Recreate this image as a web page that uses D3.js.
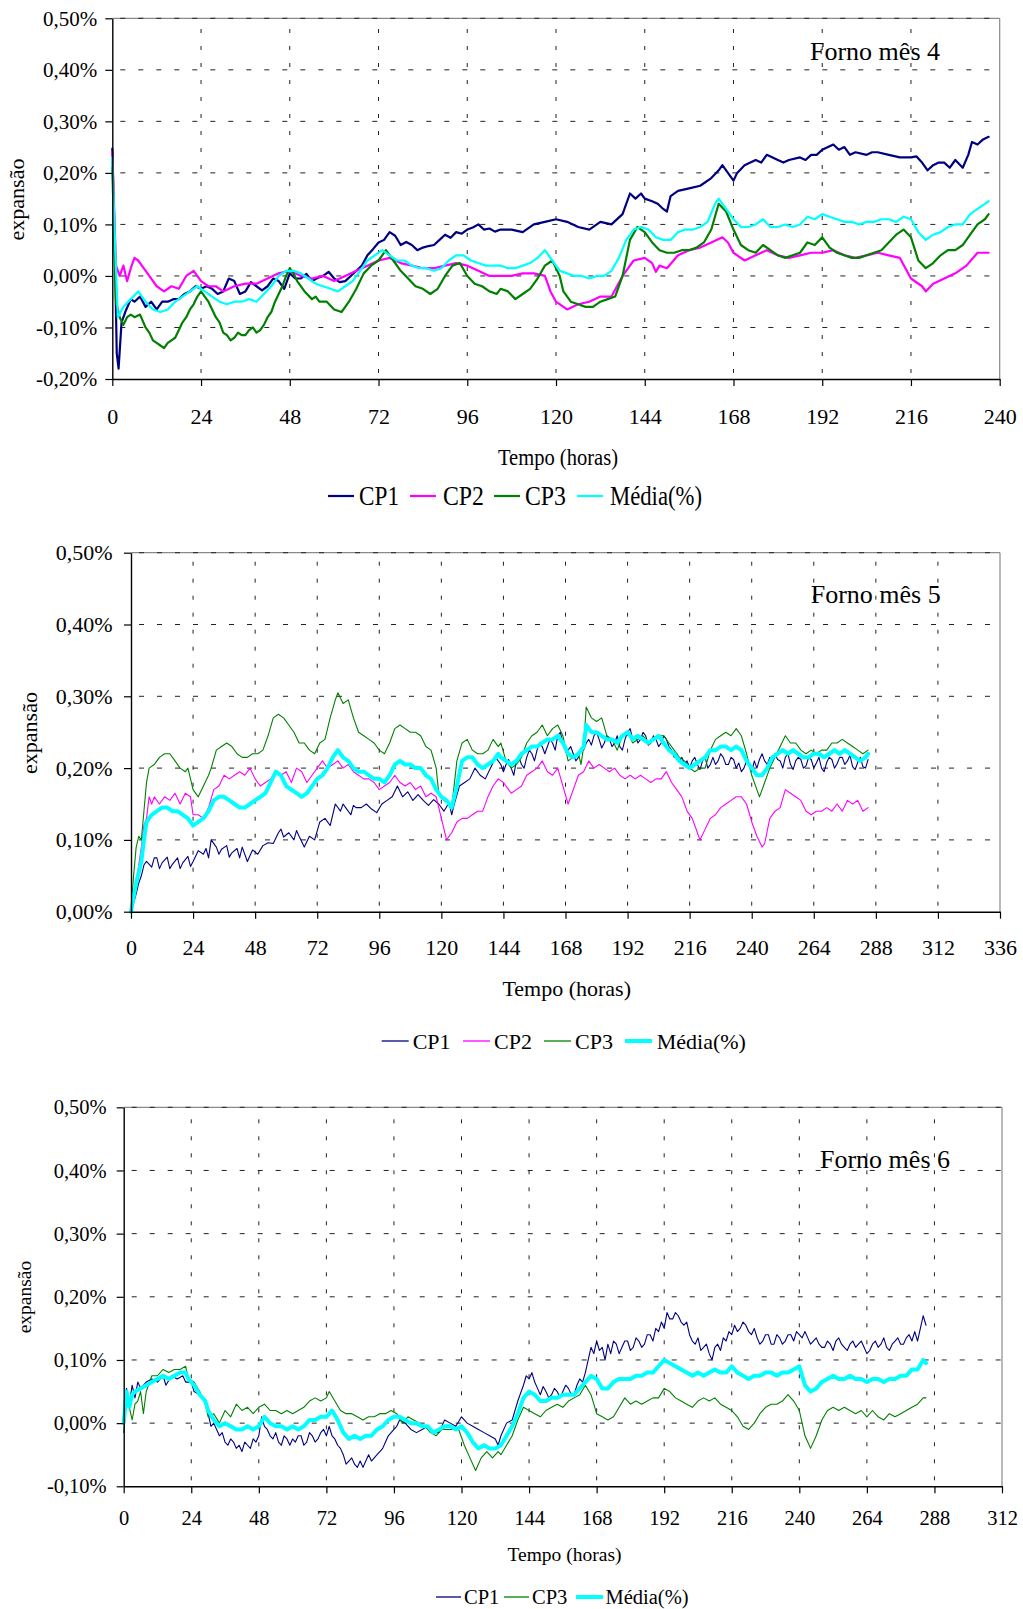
<!DOCTYPE html>
<html><head><meta charset="utf-8">
<script src="https://cdn.jsdelivr.net/npm/d3@7"></script>
<style>
body{margin:0;background:#fff}
text{font-family:'Liberation Serif','Times New Roman',serif;fill:#000}
</style>
</head><body>
<script>
// ===== DATA =====
// Forno mês 4  (time in hours, expansion in %)
const p1_CP1 = [[0,0.247],[0.7,0.05],[1.2,-0.15],[1.7,-0.18],[2.5,-0.09],[3.5,-0.07],[5,-0.045],[6,-0.05],[7.5,-0.04],[9,-0.06],[10.5,-0.05],[12,-0.065],[13.5,-0.05],[15,-0.05],[16.5,-0.045],[18,-0.045],[19.5,-0.035],[21,-0.03],[22.5,-0.02],[24,-0.025],[25.5,-0.02],[27,-0.025],[28.5,-0.035],[30,-0.03],[31.5,-0.005],[33,-0.01],[34.5,-0.035],[36,-0.03],[37.5,-0.012],[39,-0.02],[40.5,-0.028],[42,-0.02],[43.5,-0.005],[45,-0.01],[46.5,-0.025],[48,0.005],[49.5,-0.005],[51,-0.005],[52.5,0.004],[54,-0.01],[55.5,-0.004],[57,0.0],[58.5,0.008],[60,-0.005],[61.5,-0.012],[63,-0.01],[64.5,0.0],[66,0.01],[67.5,0.02],[69,0.04],[70.5,0.052],[72,0.065],[73.5,0.07],[75,0.085],[76.5,0.078],[78,0.06],[79.5,0.066],[81,0.06],[82.5,0.05],[84,0.055],[85.5,0.058],[87,0.06],[88.5,0.07],[90,0.08],[91.5,0.074],[93,0.085],[94.5,0.082],[96,0.09],[97.5,0.094],[99,0.10],[100.5,0.09],[102,0.092],[103.5,0.086],[105,0.09],[108,0.09],[111,0.085],[114,0.10],[117,0.105],[120,0.11],[123,0.105],[126,0.095],[129,0.09],[132,0.105],[135,0.10],[138,0.12],[140,0.16],[141.5,0.15],[143,0.16],[144,0.15],[146,0.145],[147.5,0.14],[149,0.13],[150,0.125],[151,0.155],[153,0.165],[156,0.17],[159,0.175],[162,0.19],[164,0.205],[165,0.215],[166.5,0.2],[168,0.185],[169,0.2],[171,0.215],[174,0.225],[175.5,0.22],[177,0.235],[180,0.225],[181.5,0.22],[183,0.225],[186,0.23],[187.5,0.225],[189,0.235],[190.5,0.235],[192,0.245],[195,0.255],[196.5,0.245],[198,0.25],[199.5,0.235],[201,0.24],[204,0.235],[205.5,0.24],[207,0.24],[210,0.235],[213,0.23],[216,0.23],[217.5,0.232],[219,0.22],[220.5,0.205],[222,0.215],[223.5,0.22],[225,0.22],[226.5,0.21],[228,0.225],[230,0.21],[231.5,0.235],[232.5,0.26],[234,0.255],[235.5,0.265],[237,0.27]];
const p1_CP2 = [[0,0.24],[1,0.02],[2,0.0],[3,0.02],[4,-0.01],[5,0.015],[6,0.035],[7,0.03],[8,0.02],[10,0.0],[12,-0.02],[14,-0.03],[16,-0.02],[18,-0.025],[20,0.0],[22,0.01],[24,-0.01],[26,-0.02],[28,-0.02],[30,-0.03],[33,-0.02],[36,-0.015],[39,-0.015],[42,-0.005],[45,0.005],[48,0.01],[51,0.0],[54,-0.005],[57,0.0],[60,-0.01],[63,0.0],[66,0.01],[69,0.02],[72,0.03],[75,0.035],[78,0.025],[81,0.02],[84,0.015],[87,0.015],[90,0.02],[93,0.025],[96,0.02],[99,0.01],[102,0.0],[105,0.0],[108,0.0],[111,0.005],[114,0.005],[117,0.0],[118.5,-0.03],[120,-0.05],[123,-0.065],[126,-0.055],[129,-0.05],[132,-0.04],[135,-0.04],[138,0.0],[141,0.03],[144,0.035],[146,0.025],[147,0.008],[148,0.02],[150,0.015],[153,0.04],[156,0.05],[159,0.055],[162,0.065],[165,0.075],[166.5,0.065],[168,0.045],[171,0.03],[174,0.04],[177,0.05],[180,0.04],[183,0.035],[186,0.04],[189,0.045],[192,0.045],[195,0.05],[198,0.04],[201,0.035],[204,0.04],[207,0.045],[210,0.04],[213,0.035],[214.5,0.015],[216,-0.005],[219,-0.02],[220,-0.03],[222,-0.015],[225,-0.005],[228,0.005],[231,0.02],[234,0.045],[237,0.045]];
const p1_CP3 = [[0,0.21],[1,-0.05],[2,-0.08],[3,-0.095],[4,-0.08],[5,-0.075],[6,-0.08],[7.5,-0.075],[9,-0.10],[10,-0.11],[11,-0.125],[12,-0.13],[13,-0.135],[14,-0.14],[15,-0.13],[16,-0.125],[17,-0.12],[18,-0.105],[19,-0.09],[20,-0.08],[21,-0.065],[22,-0.055],[23,-0.04],[24,-0.03],[25,-0.04],[26,-0.05],[27,-0.065],[28,-0.08],[29,-0.09],[30,-0.11],[31,-0.115],[32,-0.125],[33,-0.12],[34,-0.11],[35,-0.115],[36,-0.115],[37,-0.105],[38,-0.10],[39,-0.11],[40,-0.105],[41,-0.095],[42,-0.08],[43,-0.07],[44,-0.05],[45,-0.035],[46,-0.02],[47,0.0],[48,0.015],[49,0.005],[50,-0.01],[52,-0.03],[54,-0.045],[55,-0.04],[56,-0.05],[58,-0.05],[60,-0.065],[62,-0.07],[63,-0.06],[64,-0.05],[66,-0.025],[68,0.005],[70,0.02],[72,0.03],[74,0.05],[76,0.03],[78,0.01],[80,-0.005],[82,-0.02],[84,-0.025],[86,-0.035],[88,-0.025],[90,0.0],[92,0.02],[94,0.025],[96,0.0],[98,-0.015],[100,-0.02],[102,-0.03],[104,-0.035],[105,-0.025],[107,-0.03],[109,-0.045],[111,-0.035],[113,-0.025],[115,-0.005],[117,0.02],[119,0.03],[121,0.0],[122,-0.03],[124,-0.05],[126,-0.055],[128,-0.06],[130,-0.06],[132,-0.05],[134,-0.045],[136,-0.04],[138,0.0],[140,0.07],[142,0.095],[144,0.085],[146,0.065],[148,0.05],[150,0.045],[152,0.045],[154,0.05],[156,0.05],[158,0.055],[160,0.065],[162,0.09],[164,0.14],[166,0.125],[168,0.09],[170,0.06],[172,0.05],[174,0.045],[176,0.06],[178,0.05],[180,0.04],[182,0.035],[184,0.04],[186,0.045],[188,0.065],[190,0.06],[192,0.075],[194,0.055],[196,0.045],[198,0.04],[200,0.035],[202,0.035],[204,0.04],[206,0.045],[208,0.05],[210,0.065],[212,0.08],[214,0.09],[216,0.075],[218,0.03],[220,0.015],[222,0.025],[224,0.04],[226,0.05],[228,0.05],[230,0.06],[232,0.08],[234,0.10],[236,0.11],[237,0.12]];
const p1_MED = [[0,0.23],[0.8,0.05],[1.5,-0.08],[3,-0.06],[5,-0.045],[7,-0.03],[9,-0.05],[11,-0.065],[13,-0.07],[15,-0.065],[17,-0.05],[19,-0.04],[21,-0.03],[23,-0.02],[25,-0.03],[27,-0.04],[29,-0.05],[31,-0.055],[33,-0.05],[35,-0.05],[37,-0.045],[39,-0.05],[41,-0.035],[43,-0.02],[45,0.0],[47,0.01],[49,0.01],[51,0.005],[53,-0.005],[55,-0.015],[57,-0.02],[59,-0.025],[61,-0.03],[63,-0.02],[65,-0.01],[67,0.01],[69,0.03],[71,0.04],[73,0.05],[75,0.04],[77,0.03],[79,0.03],[81,0.02],[83,0.015],[85,0.015],[87,0.01],[89,0.015],[91,0.03],[93,0.04],[95,0.04],[97,0.03],[99,0.025],[101,0.02],[103,0.02],[105,0.02],[107,0.015],[109,0.015],[111,0.02],[113,0.025],[115,0.035],[117,0.05],[119,0.03],[121,0.01],[123,0.005],[125,0.0],[127,0.0],[129,-0.005],[131,0.0],[133,0.0],[135,0.01],[137,0.035],[139,0.07],[141,0.09],[143,0.095],[145,0.09],[147,0.075],[149,0.07],[151,0.07],[153,0.085],[155,0.09],[157,0.09],[159,0.095],[161,0.105],[163,0.14],[164,0.15],[166,0.13],[168,0.11],[170,0.095],[172,0.095],[174,0.10],[176,0.11],[178,0.095],[180,0.095],[182,0.10],[184,0.095],[186,0.10],[188,0.115],[190,0.11],[192,0.12],[194,0.115],[196,0.11],[198,0.105],[200,0.105],[202,0.10],[204,0.105],[206,0.105],[208,0.11],[210,0.11],[212,0.105],[214,0.115],[216,0.11],[218,0.085],[220,0.07],[222,0.08],[224,0.085],[226,0.095],[228,0.10],[230,0.10],[232,0.12],[234,0.13],[236,0.14],[237,0.145]];

// Forno mês 5
const p2_CP1 = [[0,0],[1,0.012],[2,0.025],[3,0.04],[4,0.05],[5,0.065],[6,0.07],[8,0.062],[9,0.075],[10,0.075],[11,0.06],[12,0.068],[14,0.076],[15,0.06],[16,0.066],[18,0.075],[19,0.06],[20,0.068],[22,0.077],[23,0.063],[24,0.07],[26,0.085],[28,0.08],[29,0.088],[30,0.075],[31,0.10],[33,0.09],[34,0.08],[35,0.087],[37,0.092],[38,0.076],[39,0.082],[41,0.088],[42,0.075],[43,0.09],[45,0.07],[47,0.086],[49,0.08],[51,0.092],[53,0.096],[55,0.095],[57,0.11],[58,0.115],[59,0.104],[61,0.11],[63,0.10],[64,0.113],[65,0.105],[67,0.09],[69,0.105],[71,0.10],[73,0.125],[75,0.13],[77,0.12],[79,0.15],[81,0.14],[82,0.15],[83,0.145],[85,0.135],[86,0.148],[87,0.145],[89,0.145],[91,0.15],[93,0.143],[95,0.138],[97,0.15],[99,0.155],[101,0.16],[103,0.175],[105,0.16],[107,0.167],[109,0.155],[111,0.163],[113,0.155],[115,0.148],[117,0.156],[119,0.15],[121,0.14],[123,0.152],[124,0.135],[125,0.15],[127,0.175],[129,0.18],[131,0.185],[133,0.2],[135,0.19],[137,0.185],[139,0.2],[141,0.215],[143,0.205],[144,0.195],[145,0.205],[146,0.212],[147,0.2],[148,0.19],[149,0.21],[150,0.215],[151,0.205],[152,0.2],[153,0.215],[154,0.225],[155,0.22],[156,0.21],[157,0.225],[158,0.235],[159,0.23],[160,0.22],[161,0.23],[162,0.24],[163,0.235],[164,0.225],[165,0.245],[166,0.25],[167,0.235],[168,0.225],[169,0.225],[170,0.23],[171,0.22],[172,0.21],[173,0.215],[174,0.225],[175,0.225],[176,0.235],[177,0.24],[178,0.232],[179,0.245],[180,0.25],[181,0.24],[182,0.228],[183,0.235],[184,0.245],[185,0.24],[186,0.23],[187,0.235],[188,0.245],[189,0.23],[190,0.225],[191,0.24],[192,0.25],[193,0.255],[194,0.24],[195,0.245],[196,0.235],[197,0.24],[198,0.25],[199,0.245],[200,0.232],[201,0.235],[202,0.245],[203,0.24],[204,0.23],[205,0.235],[206,0.245],[207,0.24],[208,0.23],[209,0.225],[210,0.215],[211,0.22],[212,0.21],[213,0.215],[214,0.205],[215,0.21],[216,0.2],[217,0.21],[218,0.215],[219,0.205],[220,0.198],[221,0.21],[222,0.215],[223,0.2],[224,0.205],[225,0.215],[226,0.205],[227,0.21],[228,0.22],[229,0.215],[230,0.205],[231,0.205],[232,0.215],[233,0.212],[234,0.2],[235,0.207],[236,0.195],[237,0.2],[238,0.21],[239,0.205],[240,0.195],[241,0.21],[242,0.2],[243,0.212],[244,0.22],[245,0.21],[246,0.205],[247,0.215],[248,0.21],[249,0.22],[250,0.212],[251,0.21],[252,0.2],[253,0.215],[254,0.22],[255,0.205],[256,0.198],[257,0.21],[258,0.215],[259,0.212],[260,0.2],[261,0.203],[262,0.215],[263,0.212],[264,0.2],[265,0.207],[266,0.215],[267,0.2],[268,0.195],[269,0.208],[270,0.215],[271,0.212],[272,0.2],[273,0.206],[274,0.215],[275,0.215],[276,0.205],[277,0.21],[278,0.218],[279,0.202],[280,0.198],[281,0.208],[282,0.215],[283,0.202],[284,0.2],[285,0.212]];
const p2_CP2 = [[0,0],[2,0.04],[4,0.09],[5,0.12],[6,0.13],[7,0.16],[8,0.15],[9,0.16],[11,0.15],[13,0.16],[15,0.155],[17,0.165],[19,0.15],[21,0.165],[23,0.16],[24,0.135],[26,0.135],[28,0.13],[30,0.145],[32,0.17],[34,0.175],[36,0.19],[38,0.185],[40,0.19],[42,0.195],[44,0.19],[46,0.2],[48,0.185],[50,0.175],[52,0.18],[54,0.185],[56,0.195],[58,0.19],[60,0.195],[62,0.18],[64,0.2],[66,0.195],[68,0.18],[70,0.19],[72,0.2],[74,0.21],[76,0.2],[78,0.205],[80,0.21],[82,0.2],[84,0.205],[86,0.195],[88,0.19],[90,0.185],[92,0.185],[94,0.18],[96,0.17],[98,0.175],[100,0.18],[102,0.19],[104,0.18],[106,0.175],[108,0.18],[110,0.17],[112,0.175],[114,0.16],[116,0.165],[118,0.16],[120,0.13],[122,0.10],[124,0.11],[126,0.125],[128,0.13],[130,0.13],[132,0.135],[134,0.14],[136,0.14],[138,0.16],[140,0.175],[142,0.185],[144,0.18],[146,0.17],[147,0.165],[149,0.17],[151,0.175],[153,0.19],[155,0.195],[157,0.2],[159,0.21],[161,0.195],[163,0.19],[165,0.2],[167,0.175],[169,0.15],[171,0.17],[173,0.19],[175,0.195],[177,0.21],[179,0.2],[181,0.205],[183,0.2],[185,0.195],[187,0.2],[189,0.19],[191,0.185],[193,0.19],[195,0.185],[197,0.19],[199,0.185],[201,0.18],[203,0.185],[205,0.185],[207,0.195],[209,0.18],[211,0.17],[213,0.16],[215,0.14],[217,0.13],[219,0.11],[220,0.10],[222,0.115],[224,0.13],[226,0.135],[228,0.145],[230,0.15],[232,0.155],[234,0.16],[236,0.16],[238,0.15],[240,0.125],[242,0.105],[244,0.09],[245,0.095],[247,0.13],[249,0.14],[251,0.145],[253,0.17],[255,0.165],[257,0.16],[259,0.155],[261,0.14],[263,0.135],[265,0.14],[267,0.14],[269,0.145],[271,0.14],[273,0.15],[275,0.14],[277,0.155],[279,0.15],[281,0.155],[283,0.14],[285,0.145]];
const p2_CP3 = [[0,0],[1,0.05],[2,0.09],[3,0.105],[4,0.10],[5,0.14],[6,0.18],[7,0.20],[9,0.205],[11,0.215],[13,0.22],[15,0.22],[17,0.21],[19,0.20],[21,0.195],[22,0.20],[24,0.17],[26,0.16],[28,0.175],[30,0.19],[31,0.20],[33,0.225],[35,0.23],[37,0.235],[39,0.23],[41,0.22],[43,0.215],[45,0.215],[47,0.22],[49,0.22],[51,0.225],[53,0.245],[55,0.27],[57,0.275],[59,0.27],[61,0.26],[63,0.25],[65,0.235],[67,0.235],[69,0.225],[71,0.22],[73,0.235],[75,0.24],[77,0.27],[79,0.295],[80,0.305],[82,0.29],[84,0.295],[86,0.27],[88,0.25],[90,0.245],[92,0.24],[94,0.235],[96,0.225],[98,0.22],[100,0.235],[102,0.255],[104,0.26],[106,0.255],[108,0.25],[110,0.25],[112,0.245],[114,0.23],[116,0.225],[118,0.20],[119,0.165],[121,0.155],[123,0.15],[124,0.145],[126,0.21],[128,0.235],[130,0.24],[132,0.225],[134,0.22],[136,0.22],[138,0.225],[140,0.24],[142,0.23],[143,0.235],[145,0.21],[147,0.20],[149,0.205],[151,0.215],[153,0.235],[155,0.245],[157,0.25],[159,0.26],[161,0.245],[163,0.255],[165,0.26],[167,0.245],[169,0.21],[171,0.215],[173,0.22],[174,0.205],[175,0.23],[176,0.285],[178,0.27],[180,0.265],[182,0.27],[184,0.245],[186,0.24],[188,0.225],[190,0.245],[192,0.25],[194,0.235],[196,0.24],[198,0.245],[200,0.235],[202,0.24],[204,0.245],[206,0.245],[208,0.235],[210,0.225],[212,0.215],[214,0.21],[216,0.20],[218,0.195],[220,0.20],[222,0.20],[224,0.225],[226,0.24],[228,0.245],[230,0.25],[232,0.245],[234,0.255],[236,0.245],[238,0.22],[240,0.19],[242,0.17],[243,0.16],[245,0.18],[247,0.20],[249,0.215],[251,0.23],[253,0.245],[255,0.235],[257,0.235],[259,0.225],[261,0.22],[263,0.225],[265,0.22],[267,0.225],[269,0.225],[271,0.235],[273,0.235],[275,0.24],[277,0.235],[279,0.23],[281,0.225],[283,0.22],[285,0.225]];
const p2_MED = [[0,0],[2,0.04],[4,0.07],[5,0.10],[6,0.125],[8,0.135],[10,0.14],[12,0.145],[14,0.145],[16,0.14],[18,0.14],[20,0.135],[22,0.13],[24,0.12],[26,0.125],[28,0.13],[30,0.14],[32,0.155],[34,0.16],[36,0.16],[38,0.155],[40,0.15],[42,0.145],[44,0.145],[46,0.15],[48,0.155],[50,0.16],[52,0.165],[54,0.18],[56,0.195],[58,0.19],[60,0.175],[62,0.17],[64,0.165],[66,0.16],[68,0.165],[70,0.175],[72,0.185],[74,0.19],[76,0.20],[78,0.215],[80,0.225],[82,0.215],[84,0.21],[86,0.20],[88,0.195],[90,0.195],[92,0.19],[94,0.185],[96,0.185],[98,0.18],[100,0.19],[102,0.205],[104,0.21],[106,0.205],[108,0.205],[110,0.20],[112,0.20],[114,0.19],[116,0.185],[118,0.17],[120,0.16],[122,0.155],[124,0.145],[126,0.175],[128,0.21],[130,0.215],[132,0.215],[134,0.205],[136,0.20],[138,0.205],[140,0.21],[142,0.22],[143,0.215],[145,0.21],[147,0.205],[149,0.21],[151,0.22],[153,0.225],[155,0.23],[157,0.23],[159,0.235],[161,0.24],[163,0.24],[165,0.245],[167,0.235],[169,0.22],[171,0.215],[173,0.22],[175,0.23],[176,0.26],[178,0.25],[180,0.25],[182,0.245],[184,0.24],[186,0.24],[188,0.235],[190,0.245],[192,0.25],[194,0.24],[196,0.245],[198,0.24],[200,0.235],[202,0.24],[204,0.245],[206,0.235],[208,0.225],[210,0.22],[212,0.21],[214,0.205],[216,0.20],[218,0.205],[220,0.21],[222,0.215],[224,0.225],[226,0.225],[228,0.23],[230,0.23],[232,0.225],[234,0.23],[236,0.225],[238,0.21],[240,0.20],[242,0.19],[244,0.19],[246,0.20],[248,0.215],[250,0.22],[252,0.225],[254,0.22],[256,0.225],[258,0.22],[260,0.215],[262,0.215],[264,0.22],[266,0.22],[268,0.215],[270,0.22],[272,0.225],[274,0.22],[276,0.225],[278,0.22],[280,0.215],[282,0.21],[284,0.215],[285,0.22]];

// Forno mês 6
const p3_CP1 = [[0,0.01],[1,0.055],[2,0.03],[3,0.06],[4,0.04],[5,0.065],[6,0.055],[8,0.065],[10,0.07],[12,0.065],[14,0.075],[15,0.06],[17,0.075],[19,0.07],[21,0.075],[22,0.065],[24,0.065],[25,0.05],[27,0.045],[29,0.035],[30,0.015],[31,-0.005],[32,0.0],[33,-0.01],[34,-0.02],[35,-0.015],[36,-0.03],[37,-0.035],[38,-0.025],[39,-0.03],[40,-0.04],[41,-0.035],[42,-0.045],[43,-0.03],[44,-0.035],[45,-0.04],[46,-0.025],[47,-0.03],[48,-0.02],[49,0.01],[50,-0.005],[51,-0.01],[52,-0.02],[53,-0.025],[54,-0.015],[55,-0.03],[56,-0.035],[57,-0.02],[58,-0.025],[59,-0.035],[60,-0.025],[61,-0.03],[62,-0.02],[63,-0.02],[64,-0.035],[65,-0.03],[66,-0.015],[67,-0.02],[68,-0.03],[69,-0.025],[70,-0.015],[71,-0.01],[72,-0.02],[73,-0.005],[74,-0.02],[75,-0.025],[76,-0.035],[77,-0.04],[78,-0.05],[79,-0.065],[80,-0.06],[81,-0.055],[82,-0.065],[83,-0.07],[84,-0.06],[85,-0.07],[86,-0.06],[87,-0.05],[88,-0.06],[89,-0.055],[90,-0.05],[91,-0.045],[92,-0.04],[93,-0.03],[94,-0.02],[95,-0.015],[96,-0.01],[97,-0.005],[98,0.005],[100,0.0],[102,-0.01],[104,-0.015],[106,-0.01],[108,-0.005],[110,-0.015],[112,-0.015],[114,0.005],[116,0.0],[118,-0.005],[120,0.01],[122,0.0],[124,-0.005],[126,-0.01],[128,-0.015],[130,-0.02],[132,-0.025],[133,-0.035],[134,-0.02],[136,0.0],[138,0.005],[140,0.035],[142,0.06],[143,0.075],[144,0.07],[145,0.08],[146,0.065],[147,0.055],[148,0.045],[149,0.058],[150,0.05],[151,0.04],[152,0.045],[153,0.055],[154,0.05],[155,0.04],[156,0.05],[157,0.06],[158,0.055],[159,0.045],[160,0.045],[161,0.06],[162,0.07],[163,0.065],[164,0.08],[165,0.10],[166,0.12],[167,0.11],[168,0.13],[169,0.115],[170,0.12],[171,0.10],[172,0.125],[173,0.11],[174,0.13],[175,0.125],[176,0.11],[177,0.12],[178,0.13],[179,0.13],[180,0.115],[181,0.12],[182,0.135],[183,0.13],[184,0.12],[185,0.125],[186,0.14],[187,0.14],[188,0.13],[189,0.15],[190,0.145],[191,0.16],[192,0.15],[193,0.175],[194,0.165],[195,0.165],[196,0.175],[197,0.17],[198,0.16],[199,0.155],[200,0.16],[201,0.14],[202,0.13],[203,0.125],[204,0.135],[205,0.115],[206,0.12],[207,0.125],[208,0.11],[209,0.10],[210,0.12],[211,0.125],[212,0.115],[213,0.135],[214,0.13],[215,0.145],[216,0.14],[217,0.155],[218,0.145],[219,0.15],[220,0.16],[221,0.155],[222,0.145],[223,0.14],[224,0.15],[225,0.135],[226,0.125],[227,0.13],[228,0.14],[229,0.14],[230,0.125],[231,0.125],[232,0.14],[233,0.135],[234,0.125],[235,0.13],[236,0.14],[237,0.14],[238,0.13],[239,0.145],[240,0.14],[241,0.135],[242,0.145],[243,0.135],[244,0.125],[245,0.13],[246,0.135],[247,0.125],[248,0.12],[249,0.12],[250,0.13],[251,0.125],[252,0.115],[253,0.13],[254,0.135],[255,0.125],[256,0.12],[257,0.115],[258,0.125],[259,0.13],[260,0.12],[261,0.125],[262,0.13],[263,0.12],[264,0.11],[265,0.115],[266,0.125],[267,0.13],[268,0.12],[269,0.125],[270,0.135],[271,0.12],[272,0.115],[273,0.125],[274,0.13],[275,0.135],[276,0.125],[277,0.125],[278,0.135],[279,0.14],[280,0.13],[281,0.145],[282,0.13],[283,0.15],[284,0.17],[285,0.155]];
const p3_CP3 = [[0,-0.015],[1,0.04],[2,0.025],[3,0.005],[4,0.03],[5,0.035],[6,0.05],[7,0.015],[8,0.05],[10,0.075],[12,0.075],[14,0.085],[16,0.08],[18,0.085],[20,0.085],[22,0.09],[23,0.07],[25,0.065],[27,0.05],[29,0.03],[30,0.01],[32,0.015],[34,0.0],[36,0.02],[38,0.01],[40,0.03],[42,0.02],[44,0.025],[46,0.015],[48,0.025],[50,0.03],[52,0.02],[54,0.02],[56,0.015],[58,0.02],[60,0.015],[62,0.02],[64,0.025],[66,0.035],[68,0.04],[70,0.035],[72,0.04],[73,0.05],[75,0.035],[77,0.02],[79,0.015],[81,0.015],[83,0.01],[85,0.005],[87,0.01],[89,0.01],[91,0.015],[93,0.015],[95,0.02],[97,0.015],[99,0.0],[101,0.01],[103,0.005],[105,0.0],[107,-0.005],[109,-0.015],[111,-0.02],[113,-0.01],[115,-0.01],[117,-0.01],[119,-0.01],[121,-0.035],[123,-0.055],[125,-0.075],[127,-0.055],[129,-0.045],[131,-0.055],[133,-0.045],[134,-0.05],[136,-0.035],[138,-0.02],[140,0.005],[142,0.025],[144,0.02],[146,0.015],[148,0.01],[150,0.02],[152,0.025],[154,0.03],[156,0.025],[158,0.035],[160,0.04],[162,0.045],[164,0.06],[166,0.045],[168,0.015],[170,0.01],[172,0.005],[174,0.01],[176,0.025],[178,0.04],[180,0.03],[182,0.035],[184,0.03],[186,0.035],[188,0.04],[190,0.04],[192,0.055],[194,0.05],[196,0.04],[198,0.035],[200,0.03],[202,0.025],[204,0.035],[206,0.04],[208,0.035],[210,0.04],[212,0.03],[214,0.025],[216,0.02],[218,0.01],[220,-0.005],[222,-0.01],[224,0.0],[226,0.015],[228,0.025],[230,0.03],[232,0.03],[234,0.035],[236,0.045],[238,0.035],[240,0.02],[242,-0.02],[243,-0.03],[244,-0.04],[246,-0.02],[248,0.005],[250,0.02],[252,0.025],[254,0.02],[256,0.025],[258,0.02],[260,0.015],[262,0.02],[264,0.01],[266,0.02],[268,0.01],[270,0.005],[272,0.015],[274,0.01],[276,0.015],[278,0.02],[280,0.025],[282,0.03],[284,0.04],[285,0.04]];
const p3_MED = [[0,0.0],[1,0.05],[2,0.025],[3,0.045],[4,0.05],[6,0.055],[8,0.06],[10,0.065],[12,0.07],[14,0.075],[16,0.07],[18,0.075],[20,0.08],[22,0.08],[23,0.07],[25,0.06],[27,0.045],[29,0.035],[30,0.02],[32,0.005],[34,-0.005],[36,0.0],[38,-0.005],[40,-0.01],[42,-0.01],[44,-0.005],[46,-0.01],[48,-0.005],[50,0.01],[52,0.0],[54,-0.005],[56,-0.005],[58,-0.01],[60,-0.005],[62,-0.01],[64,-0.005],[66,0.005],[68,0.005],[70,0.01],[72,0.01],[74,0.02],[76,0.005],[78,-0.015],[80,-0.025],[82,-0.02],[84,-0.025],[86,-0.02],[88,-0.02],[90,-0.01],[92,-0.005],[94,0.005],[96,0.01],[98,0.01],[100,0.005],[102,0.0],[104,0.0],[106,-0.005],[108,-0.005],[110,-0.015],[112,-0.01],[114,-0.005],[116,-0.005],[118,-0.01],[120,-0.005],[122,-0.015],[124,-0.03],[126,-0.04],[128,-0.035],[130,-0.04],[132,-0.04],[134,-0.035],[136,-0.02],[138,-0.005],[140,0.015],[142,0.04],[144,0.05],[146,0.045],[148,0.035],[150,0.035],[152,0.04],[154,0.04],[156,0.045],[158,0.045],[160,0.045],[162,0.055],[164,0.065],[166,0.075],[168,0.07],[170,0.055],[172,0.055],[174,0.065],[176,0.07],[178,0.07],[180,0.07],[182,0.075],[184,0.075],[186,0.08],[188,0.08],[190,0.09],[192,0.10],[194,0.095],[196,0.09],[198,0.085],[200,0.08],[202,0.075],[204,0.08],[206,0.075],[208,0.08],[210,0.085],[212,0.08],[214,0.08],[216,0.09],[218,0.08],[220,0.075],[222,0.07],[224,0.075],[226,0.075],[228,0.08],[230,0.08],[232,0.075],[234,0.08],[236,0.08],[238,0.085],[240,0.09],[241,0.075],[242,0.06],[244,0.05],[246,0.055],[248,0.065],[250,0.07],[252,0.075],[254,0.07],[256,0.07],[258,0.075],[260,0.07],[262,0.07],[264,0.065],[266,0.07],[268,0.07],[270,0.065],[272,0.07],[274,0.07],[276,0.075],[278,0.075],[280,0.085],[282,0.085],[284,0.10],[285,0.095]];

const seriesNames = ["CP1","CP2","CP3","Média(%)"];
const panelTitles = ["Forno mês 4","Forno mês 5","Forno mês 6"];
const xTitle = "Tempo (horas)";
const yTitle = "expansão";

// ===== DRAWING =====
const COLORS = {"CP1":"#000080","CP2":"#FF00FF","CP3":"#008000","Média(%)":"#00FFFF"};
const svg = d3.select("body").append("svg").attr("width",1023).attr("height",1609);
const fmtY = v => (v<0?"-":"") + Math.abs(v).toFixed(2).replace(".",",") + "%";

function drawPanel(cfg){
  const g = svg.append("g");
  const x = d3.scaleLinear().domain([0,cfg.xmax]).range([cfg.left,cfg.right]);
  const y = d3.scaleLinear().domain([cfg.ymin,cfg.ymax]).range([cfg.bottom,cfg.top]);
  const xt = d3.range(0,cfg.xmax+1,24);
  const yt = d3.range(Math.round(cfg.ymin*10),Math.round(cfg.ymax*10)+1).map(d=>d/10);

  g.append("line").attr("x1",x(0)).attr("x2",x(cfg.xmax)).attr("y1",y(cfg.ymax)).attr("y2",y(cfg.ymax)).attr("stroke","#8a8a8a").attr("stroke-width",1.2);
  g.append("line").attr("x1",x(cfg.xmax)).attr("x2",x(cfg.xmax)).attr("y1",y(cfg.ymin)).attr("y2",y(cfg.ymax)).attr("stroke","#8a8a8a").attr("stroke-width",1.2);

  g.selectAll(".hg").data(yt.filter(v=>v>cfg.ymin+1e-9)).join("line")
    .attr("x1",x(0)).attr("x2",x(cfg.xmax)).attr("y1",d=>y(d)).attr("y2",d=>y(d))
    .attr("stroke","#222").attr("stroke-width",1).attr("stroke-dasharray","5,13").attr("stroke-dashoffset",-8);
  g.selectAll(".vg").data(xt.filter(t=>t>0 && t<cfg.xmax)).join("line")
    .attr("x1",d=>x(d)).attr("x2",d=>x(d)).attr("y1",y(cfg.ymin)).attr("y2",y(cfg.ymax))
    .attr("stroke","#222").attr("stroke-width",1).attr("stroke-dasharray","4,13").attr("stroke-dashoffset",-6);

  const line = d3.line().x(d=>x(d[0])).y(d=>y(d[1]));
  cfg.series.forEach(s=>{
    g.append("path").datum(s.data).attr("d",line).attr("fill","none")
      .attr("stroke",COLORS[s.name]).attr("stroke-width",s.w)
      .attr("stroke-linejoin","round").attr("stroke-linecap","round");
  });

  const ya = g.append("g").attr("transform",`translate(${x(0)},0)`)
    .call(d3.axisLeft(y).tickValues(yt).tickFormat(fmtY).tickSize(7).tickSizeOuter(0).tickPadding(cfg.ypad));
  ya.attr("font-family",null).attr("font-size",null);
  ya.selectAll("text").style("font-size",cfg.yfs+"px");
  ya.select(".domain").attr("stroke","#000").attr("stroke-width",1.4);
  ya.selectAll(".tick line").attr("stroke","#000").attr("stroke-width",1.2);

  const xa = g.append("g").attr("transform",`translate(0,${y(cfg.ymin)})`)
    .call(d3.axisBottom(x).tickValues(xt).tickFormat(d3.format("d")).tickSize(7).tickSizeOuter(0));
  xa.attr("font-family",null).attr("font-size",null);
  xa.selectAll("text").attr("y",cfg.xlabOff).attr("dy",0).style("font-size",cfg.xfs+"px");
  xa.select(".domain").attr("stroke","#000").attr("stroke-width",1.4);
  xa.selectAll(".tick line").attr("stroke","#000").attr("stroke-width",1.2);

  g.append("text").attr("x",cfg.titleX).attr("y",cfg.titleY).style("font-size","26px").text(cfg.title);
  const xt_ = g.append("text").attr("x",cfg.xtX).attr("y",cfg.xtY).attr("text-anchor","middle")
    .style("font-size",cfg.xtFs+"px").text(xTitle);
  if (cfg.xtLen) xt_.attr("textLength",cfg.xtLen).attr("lengthAdjust","spacingAndGlyphs");
  g.append("text").attr("transform",`translate(${cfg.ytX},${cfg.ytY}) rotate(-90)`)
    .attr("text-anchor","middle").style("font-size",cfg.ytFs+"px").text(yTitle);

  cfg.legend.forEach(it=>{
    g.append("line").attr("x1",it.lx).attr("x2",it.lx+it.ll).attr("y1",cfg.legLineY).attr("y2",cfg.legLineY)
      .attr("stroke",COLORS[it.name]).attr("stroke-width",it.w);
    const t = g.append("text").attr("x",it.tx).attr("y",cfg.legTextY).style("font-size",cfg.legFs+"px").text(it.name);
    if (it.tl) t.attr("textLength",it.tl).attr("lengthAdjust","spacingAndGlyphs");
  });
}

drawPanel({
  left:112.3,right:999.7,top:18.3,bottom:379,xmax:240,ymin:-0.2,ymax:0.5,
  ypad:8,yfs:21,xfs:22,xlabOff:45,
  title:panelTitles[0],titleX:810,titleY:60,
  xtX:558,xtY:465,xtFs:24,xtLen:120,
  ytX:23.5,ytY:199.5,ytFs:22,
  series:[{name:seriesNames[0],data:p1_CP1,w:2.2},{name:seriesNames[1],data:p1_CP2,w:2.2},{name:seriesNames[2],data:p1_CP3,w:2.2},{name:seriesNames[3],data:p1_MED,w:2.2}],
  legLineY:496,legTextY:505,legFs:27,
  legend:[{name:seriesNames[0],lx:328,ll:26,w:2.2,tx:359,tl:40},{name:seriesNames[1],lx:410,ll:26,w:2.2,tx:443,tl:41},{name:seriesNames[2],lx:494,ll:26,w:2.2,tx:525,tl:41},{name:seriesNames[3],lx:577,ll:26,w:2.2,tx:610,tl:92}]
});

drawPanel({
  left:131,right:1000,top:552.7,bottom:911.7,xmax:336,ymin:0,ymax:0.5,
  ypad:11.5,yfs:22,xfs:22,xlabOff:43,
  title:panelTitles[1],titleX:810.7,titleY:602.7,
  xtX:566.7,xtY:996,xtFs:22,
  ytX:36.9,ytY:733,ytFs:22,
  series:[{name:seriesNames[0],data:p2_CP1,w:1.1},{name:seriesNames[1],data:p2_CP2,w:1.1},{name:seriesNames[2],data:p2_CP3,w:1.1},{name:seriesNames[3],data:p2_MED,w:4}],
  legLineY:1041,legTextY:1049,legFs:22,
  legend:[{name:seriesNames[0],lx:381.7,ll:27,w:1.3,tx:412.7},{name:seriesNames[1],lx:463,ll:27,w:1.3,tx:494},{name:seriesNames[2],lx:544,ll:27,w:1.3,tx:575},{name:seriesNames[3],lx:625,ll:27,w:4,tx:656.7}]
});

drawPanel({
  left:123.7,right:1002,top:1107.3,bottom:1486.3,xmax:312,ymin:-0.1,ymax:0.5,
  ypad:10,yfs:20.5,xfs:20.5,xlabOff:39,
  title:panelTitles[2],titleX:820,titleY:1168.3,
  xtX:564.5,xtY:1561,xtFs:19.5,
  ytX:31.4,ytY:1297,ytFs:19.5,
  series:[{name:seriesNames[0],data:p3_CP1,w:1.1},{name:seriesNames[2],data:p3_CP3,w:1.1},{name:seriesNames[3],data:p3_MED,w:4}],
  legLineY:1597,legTextY:1604,legFs:20.5,
  legend:[{name:seriesNames[0],lx:436,ll:25,w:1.3,tx:464},{name:seriesNames[2],lx:504,ll:25,w:1.3,tx:532},{name:seriesNames[3],lx:576,ll:27,w:4,tx:605.5}]
});
</script>
</body></html>
